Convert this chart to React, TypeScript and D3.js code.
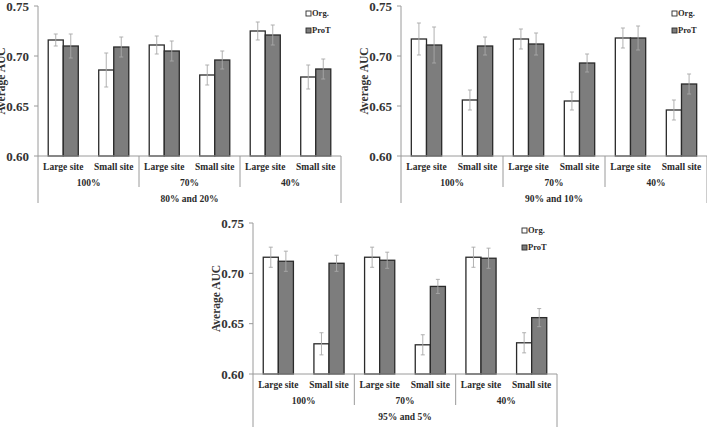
import React from 'react';
import * as d3 from 'd3';

// categories
const sites = ['Large site', 'Small site'];
const levels = ['100%', '70%', '40%'];
const seriesNames = ['Org.', 'ProT'];
const panelTitles = ['80% and 20%', '90% and 10%', '95% and 5%'];
const yTicks = [0.6, 0.65, 0.7, 0.75];

// values in order: 100% large, 100% small, 70% large, 70% small, 40% large, 40% small
const orgA = [0.716, 0.686, 0.711, 0.681, 0.725, 0.679];
const orgErrA = [0.006, 0.017, 0.009, 0.01, 0.009, 0.012];
const protA = [0.71, 0.709, 0.705, 0.696, 0.721, 0.687];
const protErrA = [0.012, 0.01, 0.01, 0.009, 0.01, 0.01];

const orgB = [0.717, 0.656, 0.717, 0.655, 0.718, 0.646];
const orgErrB = [0.016, 0.01, 0.01, 0.009, 0.01, 0.01];
const protB = [0.711, 0.71, 0.712, 0.693, 0.718, 0.672];
const protErrB = [0.018, 0.009, 0.011, 0.009, 0.012, 0.01];

const orgC = [0.716, 0.63, 0.716, 0.629, 0.716, 0.631];
const orgErrC = [0.01, 0.011, 0.01, 0.01, 0.01, 0.01];
const protC = [0.712, 0.71, 0.713, 0.687, 0.715, 0.656];
const protErrC = [0.01, 0.008, 0.008, 0.007, 0.01, 0.009];

const FONT = '"Liberation Serif", "Times New Roman", serif';
const AXIS = '#9a9a9a';
const INK = '#2a2a2a';
const BAR_GRAY = '#7d7d7d';

type PanelProps = {
  x0: number; x1: number; top: number; bottom: number; tail: number;
  title: string; org: number[]; orgErr: number[]; prot: number[]; protErr: number[];
};

function Panel({ x0, x1, top, bottom, tail, title, org, orgErr, prot, protErr }: PanelProps) {
  const keys = levels.flatMap(l => sites.map(s => `${l}|${s}`));
  const x = d3.scaleBand<string>().domain(keys).range([x0, x1]).padding(0);
  const inner = d3.scaleBand<string>().domain(seriesNames).range([0, x.bandwidth()]).paddingInner(0).paddingOuter(0.68);
  const y = d3.scaleLinear().domain([0.6, 0.75]).range([bottom, top]);
  const groupW = (x1 - x0) / levels.length;
  const series = [
    { name: 'Org.', vals: org, errs: orgErr, fill: '#ffffff' },
    { name: 'ProT', vals: prot, errs: protErr, fill: BAR_GRAY },
  ];

  return (
    <g>
      {/* bars */}
      {series.map(s => keys.map((k, i) => {
        const bx = (x(k) ?? 0) + (inner(s.name) ?? 0);
        return (
          <rect key={s.name + k} x={bx} y={y(s.vals[i])} width={inner.bandwidth()}
            height={bottom - y(s.vals[i])} fill={s.fill} stroke={INK} strokeWidth={1.3} />
        );
      }))}
      {/* error bars */}
      {series.map(s => keys.map((k, i) => {
        const cx = (x(k) ?? 0) + (inner(s.name) ?? 0) + inner.bandwidth() / 2;
        const yt = y(s.vals[i] + s.errs[i]);
        const yb = y(s.vals[i] - s.errs[i]);
        return (
          <g key={'e' + s.name + k} stroke="#a8a8a8" strokeWidth={0.9}>
            <line x1={cx} x2={cx} y1={yt} y2={yb} />
            <line x1={cx - 2} x2={cx + 2} y1={yt} y2={yt} />
            <line x1={cx - 2} x2={cx + 2} y1={yb} y2={yb} />
          </g>
        );
      }))}
      {/* axes */}
      <line x1={x0} x2={x0} y1={top} y2={bottom + tail} stroke={AXIS} />
      <line x1={x1} x2={x1} y1={bottom} y2={bottom + tail} stroke={AXIS} />
      <line x1={x0} x2={x1} y1={bottom} y2={bottom} stroke={AXIS} />
      {levels.slice(1).map((l, i) => (
        <line key={l} x1={x0 + groupW * (i + 1)} x2={x0 + groupW * (i + 1)} y1={bottom} y2={bottom + 31} stroke={AXIS} />
      ))}
      {yTicks.map(t => (
        <g key={t}>
          <line x1={x0 - 4} x2={x0} y1={y(t)} y2={y(t)} stroke={AXIS} />
          <text x={x0 - 9} y={y(t)} dy="0.35em" textAnchor="end" fontSize={13} fontWeight="bold" fill="#333" fontFamily={FONT}>
            {t.toFixed(2)}
          </text>
        </g>
      ))}
      <text transform={`translate(${x0 - 37},${(top + bottom) / 2}) rotate(-90)`} textAnchor="middle" dy="0.35em"
        fontSize={11.5} fontWeight="bold" fill="#333" fontFamily={FONT}>Average AUC</text>
      {/* category labels */}
      {keys.map(k => (
        <text key={'c' + k} x={(x(k) ?? 0) + x.bandwidth() / 2} y={bottom + 11} dy="0.35em" textAnchor="middle"
          fontSize={9.5} fontWeight="bold" fill={INK} fontFamily={FONT}>{k.split('|')[1]}</text>
      ))}
      {levels.map((l, i) => (
        <text key={'l' + l} x={x0 + groupW * (i + 0.5)} y={bottom + 27} dy="0.35em" textAnchor="middle"
          fontSize={9.5} fontWeight="bold" fill={INK} fontFamily={FONT}>{l}</text>
      ))}
      <text x={(x0 + x1) / 2} y={bottom + 43} dy="0.35em" textAnchor="middle"
        fontSize={9.5} fontWeight="bold" fill={INK} fontFamily={FONT}>{title}</text>
      {/* legend */}
      {series.map((s, i) => (
        <g key={'lg' + s.name}>
          <rect x={x1 - 35} y={top + 5 + i * 17} width={5} height={5} fill={s.fill} stroke={INK} strokeWidth={0.9} />
          <text x={x1 - 29} y={top + 7.5 + i * 17} dy="0.35em" fontSize={8.5} fontWeight="bold" fill={INK} fontFamily={FONT}>{s.name}</text>
        </g>
      ))}
    </g>
  );
}

export default function App() {
  return (
    <svg width={707} height={427} style={{ position: 'absolute', left: 0, top: 0, background: '#fff' }}>
      <rect width={707} height={427} fill="#fff" />
      <Panel x0={38} x1={341} top={6} bottom={156} tail={47} title={panelTitles[0]}
        org={orgA} orgErr={orgErrA} prot={protA} protErr={protErrA} />
      <Panel x0={401} x1={707} top={6} bottom={156} tail={47} title={panelTitles[1]}
        org={orgB} orgErr={orgErrB} prot={protB} protErr={protErrB} />
      <Panel x0={253} x1={557} top={223} bottom={374} tail={53} title={panelTitles[2]}
        org={orgC} orgErr={orgErrC} prot={protC} protErr={protErrC} />
    </svg>
  );
}
